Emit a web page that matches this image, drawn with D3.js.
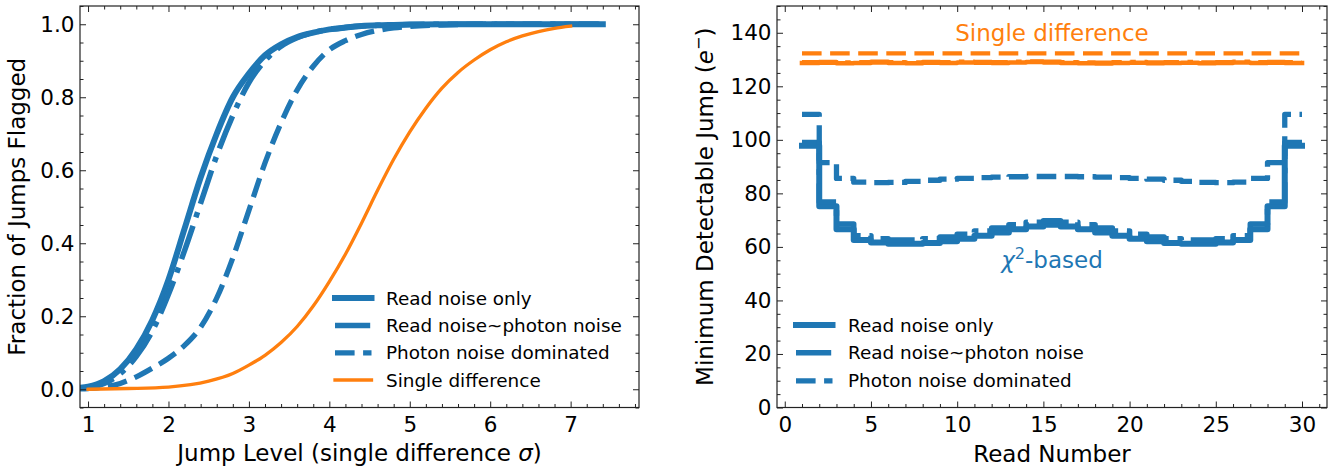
<!DOCTYPE html>
<html>
<head>
<meta charset="utf-8">
<script src="https://cdn.jsdelivr.net/npm/d3@7"></script>
<style>
  html, body { margin: 0; padding: 0; background: #fff; }
  svg { display: block; font-family: "DejaVu Sans", sans-serif; }
</style>
</head>
<body>
<svg id="fig" width="1343" height="467"></svg>
<script>
// ---------------- Left panel: fraction of jumps flagged vs jump level ----------------
const jumpLevels = [0.9, 1.0, 1.2, 1.4, 1.6, 1.8, 2.0, 2.2, 2.4, 2.6, 2.8, 3.0, 3.2, 3.4,
  3.6, 3.8, 4.0, 4.2, 4.4, 4.6, 4.8, 5.0, 5.4, 5.8, 6.2, 6.6, 7.0, 7.4];
const flaggedReadNoise = [0.004, 0.007, 0.022, 0.055, 0.11, 0.19, 0.30, 0.44, 0.58, 0.70, 0.80,
  0.865, 0.915, 0.945, 0.965, 0.977, 0.986, 0.991, 0.995, 0.997, 0.998, 0.999, 1, 1, 1, 1, 1, 1];
const flaggedMixedNoise = [0.003, 0.005, 0.016, 0.043, 0.09, 0.16, 0.26, 0.38, 0.51, 0.64, 0.75,
  0.84, 0.90, 0.94, 0.963, 0.977, 0.986, 0.991, 0.995, 0.997, 0.998, 0.999, 1, 1, 1, 1, 1, 1];
const flaggedPhotonNoise = [0.001, 0.002, 0.006, 0.016, 0.034, 0.058, 0.085, 0.12, 0.17, 0.25, 0.36,
  0.49, 0.62, 0.73, 0.82, 0.885, 0.93, 0.955, 0.972, 0.983, 0.99, 0.994, 0.998, 1, 1, 1, 1, 1];
const singleDiffLevels = [1.0, 1.5, 2.0, 2.5, 2.8, 3.0, 3.2, 3.4, 3.6, 3.8, 4.0, 4.2, 4.4, 4.6,
  4.8, 5.0, 5.2, 5.4, 5.6, 5.8, 6.0, 6.2, 6.4, 6.6, 6.8, 7.0];
const flaggedSingleDiff = [0.0, 0.002, 0.006, 0.022, 0.043, 0.066, 0.093, 0.128, 0.172, 0.228, 0.295,
  0.37, 0.455, 0.545, 0.63, 0.705, 0.77, 0.825, 0.868, 0.902, 0.93, 0.952, 0.968, 0.98, 0.989, 0.995];

const leftXTicks = [1, 2, 3, 4, 5, 6, 7];
const leftYTicks = [0.0, 0.2, 0.4, 0.6, 0.8, 1.0];

// ---------------- Right panel: minimum detectable jump per read interval ----------------
const readNumbers = [1, 2, 3, 4, 5, 6, 7, 8, 9, 10, 11, 12, 13, 14, 15, 16, 17, 18, 19, 20,
  21, 22, 23, 24, 25, 26, 27, 28, 29, 30];
// one value per interval between consecutive reads (29 intervals)
const chi2ReadNoise = [97.8, 75.2, 66.6, 62.6, 61.6, 61.2, 61.2, 61.5, 62.1, 63.0, 64.2, 65.4,
  66.6, 67.6, 68.3, 67.6, 66.6, 65.4, 64.2, 63.0, 62.1, 61.5, 61.2, 61.2, 61.6, 62.6, 66.6, 75.2, 97.8];
const chi2MixedNoise = [99.0, 76.8, 68.6, 64.2, 63.0, 62.6, 62.6, 63.0, 63.7, 64.7, 65.9, 67.1,
  68.3, 69.2, 69.8, 69.2, 68.3, 67.1, 65.9, 64.7, 63.7, 63.0, 62.6, 62.6, 63.0, 64.2, 68.6, 76.8, 99.0];
const chi2PhotonNoise = [109.5, 91.5, 85.6, 84.2, 84.0, 84.1, 84.5, 84.9, 85.3, 85.6, 85.9, 86.1,
  86.2, 86.3, 86.3, 86.3, 86.2, 86.1, 85.9, 85.6, 85.3, 84.9, 84.5, 84.1, 84.0, 84.2, 85.6, 91.5, 109.5];
const sdReadNoise = [128.7, 128.8, 128.6, 128.7, 128.9, 128.7, 128.6, 128.8, 128.7, 128.9, 128.8, 128.7,
  128.9, 129.1, 128.9, 128.7, 128.6, 128.5, 128.7, 128.8, 128.6, 128.7, 128.8, 128.6, 128.7, 128.9, 128.7, 128.8, 128.7];
const sdMixedNoise = [129.0, 129.1, 128.9, 129.0, 129.2, 129.0, 128.9, 129.1, 129.0, 129.2, 129.1, 129.0,
  129.2, 129.3, 129.2, 129.0, 128.9, 128.8, 129.0, 129.1, 128.9, 129.0, 129.1, 128.9, 129.0, 129.2, 129.0, 129.1, 129.0];
const sdPhotonNoise = [132.3, 132.3, 132.3, 132.3, 132.3, 132.3, 132.3, 132.3, 132.3, 132.3, 132.3, 132.3,
  132.3, 132.3, 132.3, 132.3, 132.3, 132.3, 132.3, 132.3, 132.3, 132.3, 132.3, 132.3, 132.3, 132.3, 132.3, 132.3, 132.3];

const rightXTicks = [0, 5, 10, 15, 20, 25, 30];
const rightYTicks = [0, 20, 40, 60, 80, 100, 120, 140];

const seriesNames = ["Read noise only", "Read noise~photon noise", "Photon noise dominated", "Single difference"];

// ---------------- styles ----------------
const BLUE = "#1f77b4", ORANGE = "#ff7f0e", INK = "#222";
const styles = {
  solid:   { width: 6,   dash: null,                cap: "square" },
  dashdot: { width: 5.5, dash: "35.2,8.8,5.5,8.8", cap: "butt" },
  dashed:  { width: 5.3, dash: "19.6,8.5",          cap: "butt" },
  thin:    { width: 3.3, dash: null,                cap: "square" }
};
const TICK_FS = 21.5, LABEL_FS = 23, LEGEND_FS = 18.4;

const svg = d3.select("#fig");

const boxL = { x0: 80, x1: 639, y0: 6, y1: 407.5 };
const boxR = { x0: 777, x1: 1327, y0: 6, y1: 407.5 };

const xL = d3.scaleLinear().domain([0.9, 7.85]).range([boxL.x0, boxL.x1]);
const yL = d3.scaleLinear().domain([-0.05, 1.05]).range([boxL.y1, boxL.y0]);
const xR = d3.scaleLinear().domain([-0.45, 31.45]).range([boxR.x0, boxR.x1]);
const yR = d3.scaleLinear().domain([0, 150]).range([boxR.y1, boxR.y0]);

function styleLine(sel, color, st, widthOverride) {
  sel.attr("fill", "none")
    .attr("stroke", color)
    .attr("stroke-width", widthOverride || st.width)
    .attr("stroke-linejoin", "round")
    .attr("stroke-linecap", st.cap);
  if (st.dash) sel.attr("stroke-dasharray", st.dash);
  return sel;
}

function drawAxes(box, x, y, xMajor, yMajor, xMinor, yMinor, xFmt, yFmt) {
  const g = svg.append("g");
  const fix = s => s.attr("font-size", null).attr("font-family", null)
    .call(a => a.select(".domain").remove())
    .call(a => a.selectAll("line").attr("stroke", INK).attr("stroke-width", 1))
    .call(a => a.selectAll("text").attr("fill", "#000").attr("font-size", TICK_FS));
  // bottom / top
  g.append("g").attr("transform", `translate(0,${box.y1})`)
    .call(d3.axisBottom(x).tickValues(xMajor).tickSize(-6).tickPadding(9).tickFormat(xFmt)).call(fix);
  g.append("g").attr("transform", `translate(0,${box.y1})`)
    .call(d3.axisBottom(x).tickValues(xMinor).tickSize(-3.5).tickFormat("")).call(fix);
  g.append("g").attr("transform", `translate(0,${box.y0})`)
    .call(d3.axisTop(x).tickValues(xMajor).tickSize(-6).tickFormat("")).call(fix);
  g.append("g").attr("transform", `translate(0,${box.y0})`)
    .call(d3.axisTop(x).tickValues(xMinor).tickSize(-3.5).tickFormat("")).call(fix);
  // left / right
  g.append("g").attr("transform", `translate(${box.x0},0)`)
    .call(d3.axisLeft(y).tickValues(yMajor).tickSize(-6).tickPadding(5.5).tickFormat(yFmt)).call(fix);
  g.append("g").attr("transform", `translate(${box.x0},0)`)
    .call(d3.axisLeft(y).tickValues(yMinor).tickSize(-3.5).tickFormat("")).call(fix);
  g.append("g").attr("transform", `translate(${box.x1},0)`)
    .call(d3.axisRight(y).tickValues(yMajor).tickSize(-6).tickFormat("")).call(fix);
  g.append("g").attr("transform", `translate(${box.x1},0)`)
    .call(d3.axisRight(y).tickValues(yMinor).tickSize(-3.5).tickFormat("")).call(fix);
  // frame
  g.append("rect").attr("x", box.x0).attr("y", box.y0)
    .attr("width", box.x1 - box.x0).attr("height", box.y1 - box.y0)
    .attr("fill", "none").attr("stroke", INK).attr("stroke-width", 1.2);
}

function clipFor(id, box) {
  svg.append("clipPath").attr("id", id).append("rect")
    .attr("x", box.x0).attr("y", box.y0)
    .attr("width", box.x1 - box.x0).attr("height", box.y1 - box.y0);
  return svg.append("g").attr("clip-path", `url(#${id})`);
}

function drawLegend(entries, hx0, hx1, tx, rowsY) {
  const g = svg.append("g");
  entries.forEach((e, i) => {
    const yy = rowsY[i];
    styleLine(g.append("line").attr("x1", hx0).attr("x2", hx1).attr("y1", yy).attr("y2", yy), e.color, e.style, e.width);
    g.append("text").attr("x", tx).attr("y", yy).attr("dy", "0.36em")
      .attr("font-size", LEGEND_FS).attr("fill", "#000").text(e.name);
  });
}

// ================= LEFT PANEL =================
const minorLX = d3.range(5, 40).map(i => +(i * 0.2).toFixed(1)).filter(v => !leftXTicks.includes(v));
const minorLY = d3.range(-1, 22).map(i => +(i * 0.05).toFixed(2)).filter(v => Math.abs(v * 5 - Math.round(v * 5)) > 1e-6);

const plotL = clipFor("clipL", boxL);
const curveL = d3.line().x(d => xL(d[0])).y(d => yL(d[1])).curve(d3.curveMonotoneX);

const leftSeries = [
  { xs: jumpLevels, ys: flaggedReadNoise, color: BLUE, style: styles.solid },
  { xs: jumpLevels, ys: flaggedMixedNoise, color: BLUE, style: styles.dashdot },
  { xs: jumpLevels, ys: flaggedPhotonNoise, color: BLUE, style: styles.dashed },
  { xs: singleDiffLevels, ys: flaggedSingleDiff, color: ORANGE, style: styles.thin }
];
leftSeries.forEach(s => {
  const pts = s.xs.map((v, i) => [v, s.ys[i]]);
  styleLine(plotL.append("path").attr("d", curveL(pts)), s.color, s.style);
});

drawAxes(boxL, xL, yL, leftXTicks, leftYTicks, minorLX, minorLY, d3.format("d"), d3.format(".1f"));

drawLegend([
  { name: seriesNames[0], color: BLUE, style: styles.solid },
  { name: seriesNames[1], color: BLUE, style: styles.dashdot },
  { name: seriesNames[2], color: BLUE, style: styles.dashed },
  { name: seriesNames[3], color: ORANGE, style: styles.thin }
], 335, 371.5, 386, [298, 325.5, 352.8, 380]);

// axis titles
svg.append("text").attr("x", (boxL.x0 + boxL.x1) / 2).attr("y", 460.5)
  .attr("text-anchor", "middle").attr("font-size", LABEL_FS).attr("fill", "#000")
  .call(t => {
    t.append("tspan").text("Jump Level (single difference ");
    t.append("tspan").attr("font-style", "italic").text("σ");
    t.append("tspan").text(")");
  });
svg.append("text").attr("transform", `translate(24.5,${(boxL.y0 + boxL.y1) / 2}) rotate(-90)`)
  .attr("text-anchor", "middle").attr("font-size", LABEL_FS).attr("fill", "#000")
  .text("Fraction of Jumps Flagged");

// ================= RIGHT PANEL =================
const minorRX = d3.range(0, 32).filter(v => v % 5 !== 0);
const minorRY = d3.range(0, 151, 5).filter(v => v % 20 !== 0);

const plotR = clipFor("clipR", boxR);
const stepR = d3.line().x(d => xR(d[0])).y(d => yR(d[1])).curve(d3.curveStepAfter);
// each interval value spans from read k to read k+1
const stepPoints = vals => readNumbers.map((r, i) => [r, vals[Math.min(i, vals.length - 1)]]);

const rightSeries = [
  { ys: chi2ReadNoise, color: BLUE, style: styles.solid },
  { ys: chi2MixedNoise, color: BLUE, style: styles.dashdot },
  { ys: chi2PhotonNoise, color: BLUE, style: styles.dashed },
  { ys: sdReadNoise, color: ORANGE, style: styles.solid, width: 4.6 },
  { ys: sdMixedNoise, color: ORANGE, style: styles.dashdot, width: 4.4 },
  { ys: sdPhotonNoise, color: ORANGE, style: styles.dashed, width: 4.4 }
];
rightSeries.forEach(s => {
  styleLine(plotR.append("path").attr("d", stepR(stepPoints(s.ys))), s.color, s.style, s.width);
});

drawAxes(boxR, xR, yR, rightXTicks, rightYTicks, minorRX, minorRY, d3.format("d"), d3.format("d"));

// in-plot annotations
svg.append("text").attr("x", xR(15.5)).attr("y", yR(137))
  .attr("text-anchor", "middle").attr("font-size", LABEL_FS).attr("fill", ORANGE)
  .text("Single difference");
svg.append("text").attr("x", xR(15.5)).attr("y", yR(52))
  .attr("text-anchor", "middle").attr("font-size", LABEL_FS).attr("fill", BLUE)
  .call(t => {
    t.append("tspan").attr("font-style", "italic").text("χ");
    t.append("tspan").attr("font-size", LABEL_FS * 0.7).attr("dy", -9).text("2");
    t.append("tspan").attr("dy", 9).text("-based");
  });

drawLegend([
  { name: seriesNames[0], color: BLUE, style: styles.solid },
  { name: seriesNames[1], color: BLUE, style: styles.dashdot },
  { name: seriesNames[2], color: BLUE, style: styles.dashed }
], 796, 832.5, 848, [325, 352.8, 380.8]);

svg.append("text").attr("x", (boxR.x0 + boxR.x1) / 2).attr("y", 461.5)
  .attr("text-anchor", "middle").attr("font-size", LABEL_FS).attr("fill", "#000")
  .text("Read Number");
svg.append("text").attr("transform", `translate(712.5,${(boxR.y0 + boxR.y1) / 2}) rotate(-90)`)
  .attr("text-anchor", "middle").attr("font-size", LABEL_FS).attr("fill", "#000")
  .call(t => {
    t.append("tspan").text("Minimum Detectable Jump (");
    t.append("tspan").attr("font-style", "italic").text("e");
    t.append("tspan").attr("font-size", LABEL_FS * 0.7).attr("dy", -9).text("−");
    t.append("tspan").attr("dy", 9).text(")");
  });
</script>
</body>
</html>
